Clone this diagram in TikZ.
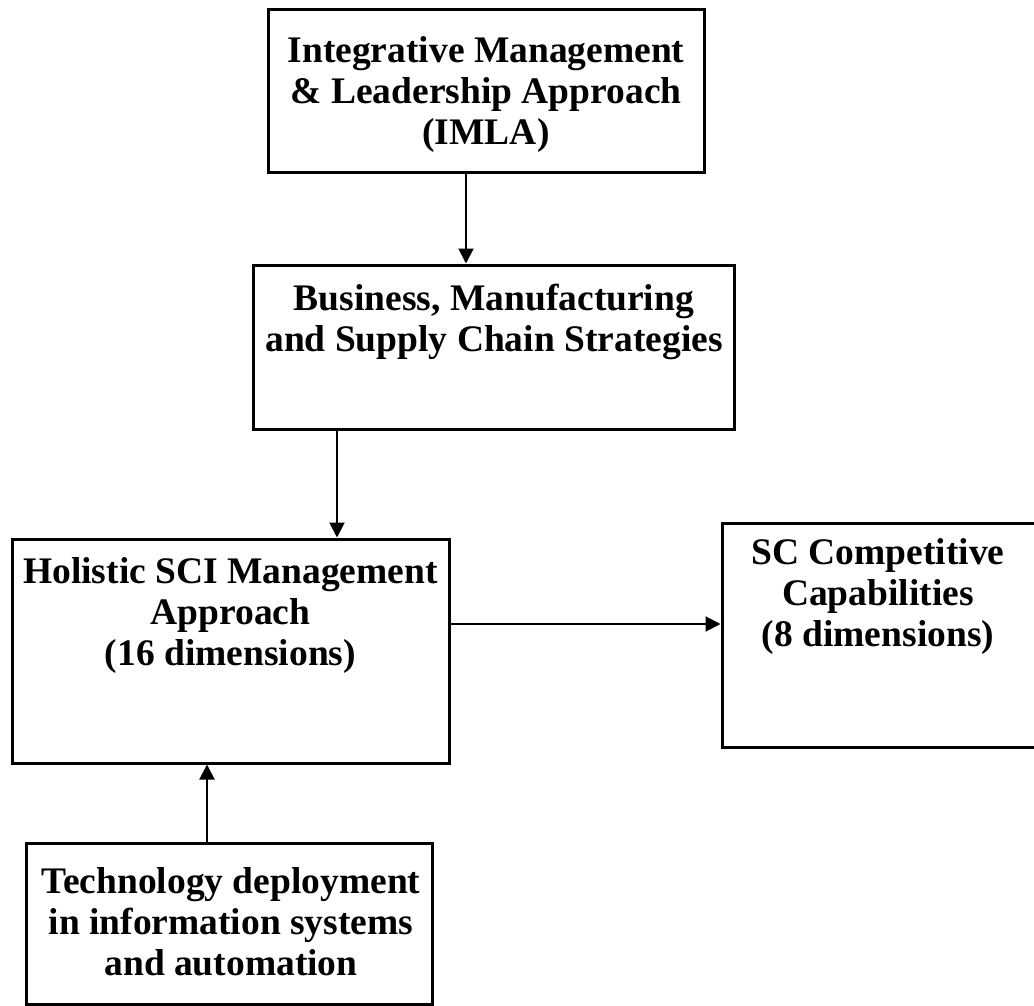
\documentclass[tikz,border=0pt]{standalone}
\usepackage{fontspec}
\setmainfont{Liberation Serif}
\usetikzlibrary{arrows.meta}
\tikzset{
  box/.style={draw=black, line width=3pt, inner sep=0pt, fill=none},
  lbl/.style={anchor=north, inner sep=0pt, align=center, text=black,
    font=\fontsize{37.5}{41}\selectfont\bfseries},
  arr/.style={draw=black, line width=2pt, -{Triangle[length=15pt,width=15pt]}}
}
\begin{document}
\begin{tikzpicture}[x=1pt,y=-1pt]
\fill[white] (0,0) rectangle (1034,1006);
\clip (0,0) rectangle (1034,1006);
\useasboundingbox (0,0) rectangle (1034,1006);
% boxes
\node[box, minimum width=436pt, minimum height=163pt] (b1) at (486,91.5) {};
\node[box, minimum width=481pt, minimum height=164pt] (b2) at (493.5,347) {};
\node[box, minimum width=437pt, minimum height=224pt] (b3) at (230.5,651) {};
\node[box, minimum width=315pt, minimum height=224pt] (b4) at (879.5,635) {};
\node[box, minimum width=406pt, minimum height=161pt] (b5) at (229,923.5) {};
% labels
\node[lbl] (t1) at (486,36) {Integrative Management\\ \& Leadership Approach\\ (IMLA)};
\node[lbl] (t2) at (494,284) {Business, Manufacturing\\ and Supply Chain Strategies};
\node[lbl] (t3) at (230.5,557) {Holistic SCI Management\\ Approach\\ (16 dimensions)};
\node[lbl] (t4) at (878,538) {SC Competitive\\ Capabilities\\ (8 dimensions)};
\node[lbl] (t5) at (231,867) {Technology deployment\\ in information systems\\ and automation};
% connector guides
\coordinate (c1) at (466,0);
\coordinate (c2) at (337,0);
\coordinate (c3) at (0,624);
\coordinate (c4) at (207,0);
% connectors
\draw[arr] (b1.south -| c1) -- (b2.north -| c1);
\draw[arr] (b2.south -| c2) -- (b3.north -| c2);
\draw[arr] (b3.east |- c3) -- (b4.west |- c3);
\draw[arr] (b5.north -| c4) -- (b3.south -| c4);
\end{tikzpicture}
\end{document}
